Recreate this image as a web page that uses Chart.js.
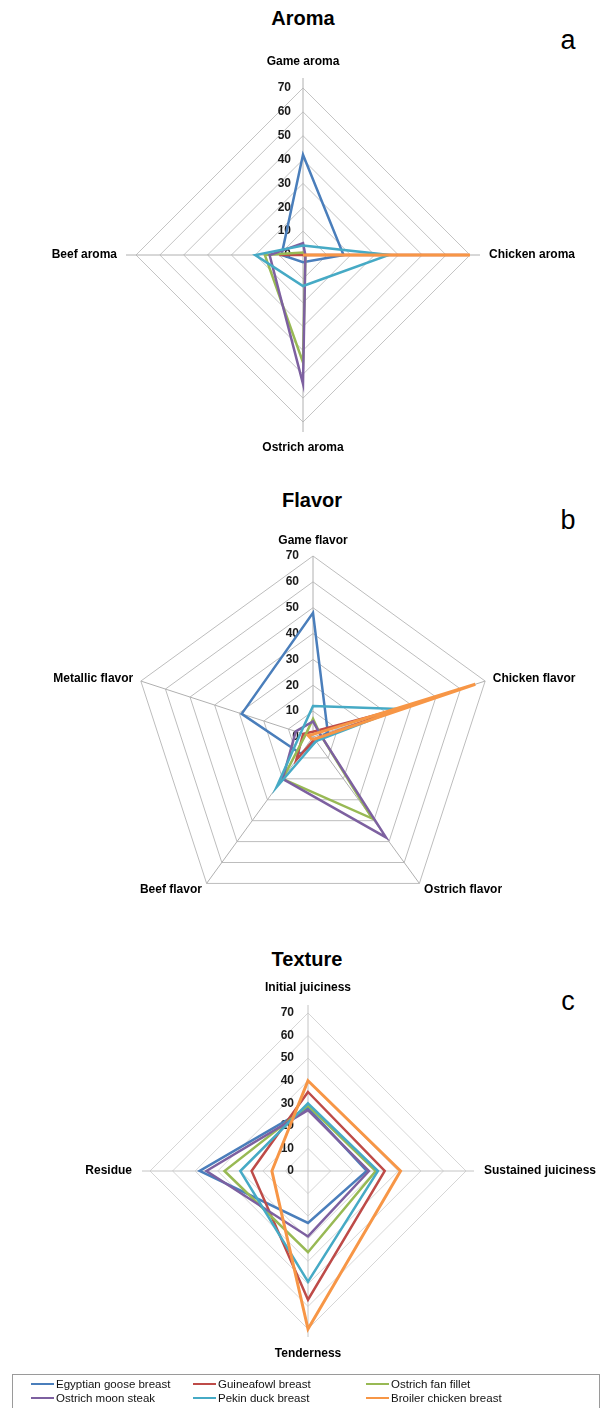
<!DOCTYPE html>
<html><head><meta charset="utf-8">
<script src="https://cdn.jsdelivr.net/npm/chart.js@4.4.0/dist/chart.umd.min.js"></script>
<style>
html,body{margin:0;padding:0;background:#fff;}
body{width:606px;height:1408px;position:relative;overflow:hidden;font-family:"Liberation Sans",Arial,sans-serif;color:#000;}
canvas{position:absolute;left:0;}
.title{position:absolute;font-weight:bold;font-size:20px;transform:translate(-50%,-50%);white-space:nowrap;}
.letter{position:absolute;font-size:27px;transform:translate(-50%,-50%);}
#legend{position:absolute;left:12px;top:1374px;width:588px;height:44px;border:1px solid #9a9a9a;box-sizing:border-box;font-size:11.5px;color:#111;}
.li{position:absolute;white-space:nowrap;transform:translateY(-50%);}
.li span.sw{display:inline-block;width:23px;height:2.5px;vertical-align:middle;margin-right:2px;position:relative;top:-1px;}
</style>
</head><body>
<div class="title" style="left:303px;top:18px">Aroma</div>
<div class="letter" style="left:568px;top:40px">a</div>
<div class="title" style="left:312px;top:500px">Flavor</div>
<div class="letter" style="left:568px;top:520px">b</div>
<div class="title" style="left:307px;top:959px">Texture</div>
<div class="letter" style="left:568px;top:1001px">c</div>
<canvas id="cA" width="606" height="470" style="top:0px"></canvas>
<canvas id="cB" width="606" height="470" style="top:470px"></canvas>
<canvas id="cC" width="606" height="468" style="top:940px"></canvas>
<div id="legend"></div>
<script>
// ---------- data ----------
const seriesNames = ["Egyptian goose breast","Guineafowl breast","Ostrich fan fillet","Ostrich moon steak","Pekin duck breast","Broiler chicken breast"];
const seriesColors = ["#4A7EBB","#BE4B48","#98B954","#7D60A0","#46AAC5","#F79646"];
const tickLabels = [0,10,20,30,40,50,60,70];

const aromaCategories = ["Game aroma","Chicken aroma","Ostrich aroma","Beef aroma"];
const aromaGoose   = [42, 17, 3, 9];
const aromaGuinea  = [0, 69, 0, 10];
const aromaFan     = [1, 1, 45, 16];
const aromaMoon    = [5, 1, 54, 14];
const aromaDuck    = [4, 36, 13, 20];
const aromaBroiler = [0, 70, 0, 0];

const flavorCategories = ["Game flavor","Chicken flavor","Ostrich flavor","Beef flavor","Metallic flavor"];
const flavorGoose   = [48, 6, 2, 8, 29];
const flavorGuinea  = [2, 36, 1, 11, 4];
const flavorFan     = [7, 3, 39, 20, 3];
const flavorMoon    = [6, 3, 48, 20, 7];
const flavorDuck    = [12, 35, 2, 24, 5];
const flavorBroiler = [1, 66, 1, 1, 2];

const textureCategories = ["Initial juiciness","Sustained juiciness","Tenderness","Residue"];
const textureGoose   = [28, 26, 23, 48];
const textureGuinea  = [35, 34, 57, 25];
const textureFan     = [29, 30, 36, 37];
const textureMoon    = [27, 27, 29, 45];
const textureDuck    = [30, 31, 49, 30];
const textureBroiler = [40, 41, 70, 16];

// ---------- drawing ----------
const deco = {
  id:'deco',
  beforeDatasetsDraw(chart, args, o){
    const s = chart.scales.r, ctx = chart.ctx;
    ctx.save();
    ctx.strokeStyle = o.axisColor; ctx.lineWidth = 1;
    chart.data.labels.forEach((l,i)=>{
      const p = s.getPointPosition(i, s.drawingArea + o.axisExt);
      ctx.beginPath(); ctx.moveTo(s.xCenter, s.yCenter); ctx.lineTo(p.x, p.y); ctx.stroke();
    });
    // tick labels
    ctx.font = 'bold 12px "Liberation Sans", Arial, sans-serif';
    ctx.fillStyle = '#1a1a1a'; ctx.textAlign = 'right'; ctx.textBaseline = 'middle';
    tickLabels.forEach(v=>{
      const d = s.getDistanceFromCenterForValue(v);
      ctx.fillText(String(v), s.xCenter - o.tickOff, s.yCenter - d);
    });
    // point labels
    ctx.font = 'bold 12px "Liberation Sans", Arial, sans-serif';
    ctx.fillStyle = '#000';
    chart.data.labels.forEach((l,i)=>{
      const p = s.getPointPosition(i, s.drawingArea + o.labelPad);
      const c = Math.cos(p.angle), sn = Math.sin(p.angle);
      let x = p.x, y = p.y;
      if (Math.abs(c) < 0.1) { ctx.textAlign = 'center'; y += (sn < 0 ? -7 : 7); }
      else ctx.textAlign = c > 0 ? 'left' : 'right';
      ctx.fillText(l, x, y);
    });
    ctx.restore();
  }
};

function makeChart(id, labels, data, geo){
  const W = 606;
  return new Chart(document.getElementById(id), {
    type:'radar',
    data:{
      labels: labels,
      datasets: data.map((d,i)=>({
        label: seriesNames[i], data: d,
        borderColor: seriesColors[i], backgroundColor: seriesColors[i],
        borderWidth: i===5 ? 3 : 2.5, fill:false, pointRadius:0, tension:0,
        order: data.length - 1 - i
      }))
    },
    options:{
      responsive:false, animation:false, devicePixelRatio:1,
      layout:{padding:{left:geo.cx-geo.r, right:W-geo.cx-geo.r, top:geo.cy-geo.r, bottom:geo.h-geo.cy-geo.r}},
      scales:{r:{
        min:0, max:70,
        ticks:{display:false, stepSize:10},
        grid:{color:geo.grid, lineWidth:1},
        angleLines:{display:false},
        pointLabels:{display:false}
      }},
      plugins:{legend:{display:false}, tooltip:{enabled:false},
        deco:{axisColor:geo.axis, axisExt:geo.ext, tickOff:geo.tickOff, labelPad:geo.pad}}
    },
    plugins:[deco]
  });
}

makeChart('cA', aromaCategories, [aromaGoose,aromaGuinea,aromaFan,aromaMoon,aromaDuck,aromaBroiler],
  {cx:303, cy:255, r:167, h:470, grid:'#c4c4c4', axis:'#b0b0b0', ext:10, tickOff:12, pad:19});
makeChart('cB', flavorCategories, [flavorGoose,flavorGuinea,flavorFan,flavorMoon,flavorDuck,flavorBroiler],
  {cx:313, cy:267, r:181, h:470, grid:'#bdbdbd', axis:'#b0b0b0', ext:0, tickOff:14, pad:8});
makeChart('cC', textureCategories, [textureGoose,textureGuinea,textureFan,textureMoon,textureDuck,textureBroiler],
  {cx:308, cy:231, r:158, h:468, grid:'#d6d6d6', axis:'#c4c4c4', ext:8, tickOff:14, pad:18});

// legend
const leg = document.getElementById('legend');
const colX = [18, 180, 353], rowY = [9, 23];
seriesNames.forEach((n,i)=>{
  const d = document.createElement('div');
  d.className = 'li';
  d.style.left = colX[i%3] + 'px'; d.style.top = rowY[Math.floor(i/3)] + 'px';
  d.innerHTML = '<span class="sw" style="background:'+seriesColors[i]+'"></span>' + n;
  leg.appendChild(d);
});
</script>
</body></html>
